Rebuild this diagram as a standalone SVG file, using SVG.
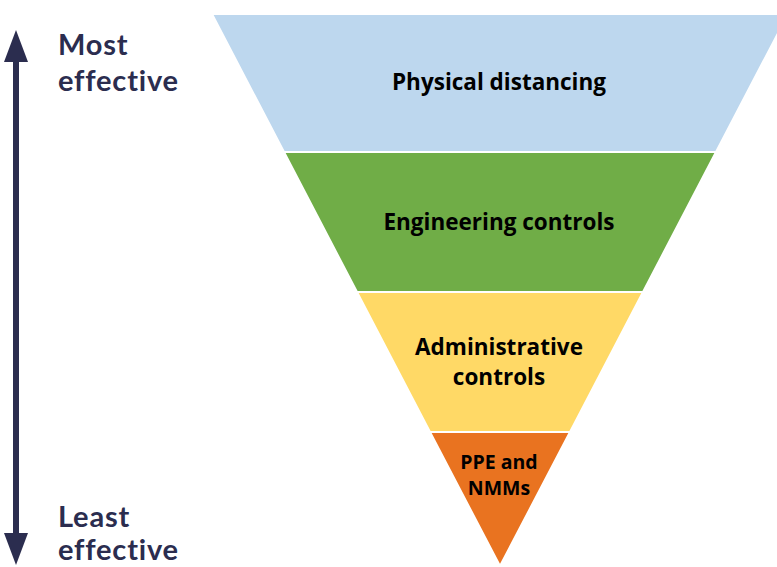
<svg xmlns="http://www.w3.org/2000/svg" width="777" height="567" viewBox="0 0 777 567">
<style>
.side{font-family:Lato,"Open Sans",sans-serif;font-weight:700;font-size:29px;letter-spacing:0.8px;fill:#2b2d4f}
.lbl{font-family:"Open Sans","Liberation Sans",sans-serif;font-weight:700;fill:#000;text-anchor:middle}
.band{stroke:#fff;stroke-width:2}
</style>
<rect width="777" height="567" fill="#fff"/>
<g id="arrow">
<line x1="16" y1="58" x2="16" y2="538" stroke="#2b2d4f" stroke-width="6"/>
<polygon points="16,30 28,62 4,62" fill="#2b2d4f"/>
<polygon points="16,565 28,533 4,533" fill="#2b2d4f"/>
</g>
<g id="most"><text class="side" x="58" y="55">Most</text><text class="side" x="58" y="91">effective</text></g>
<g id="least"><text class="side" x="58" y="527">Least</text><text class="side" x="58" y="560">effective</text></g>
<g id="physical"><polygon class="band" points="212,14 788,14 716,152 284,152" fill="#bdd7ee"/><text class="lbl" x="499" y="90" font-size="22.5">Physical distancing</text></g>
<g id="engineering"><polygon class="band" points="284,152 716,152 643,292 357,292" fill="#70ad47"/><text class="lbl" x="499" y="230" font-size="22.5">Engineering controls</text></g>
<g id="administrative"><polygon class="band" points="357,292 643,292 570,432 430,432" fill="#ffd966"/><text class="lbl" x="499" y="355" font-size="22.5">Administrative</text><text class="lbl" x="499" y="385" font-size="22.5">controls</text></g>
<g id="ppe"><polygon class="band" points="430,432 570,432 500,566" fill="#e97320"/><text class="lbl" x="499" y="469" font-size="19.5">PPE and</text><text class="lbl" x="499" y="495" font-size="19.5">NMMs</text></g>
</svg>
